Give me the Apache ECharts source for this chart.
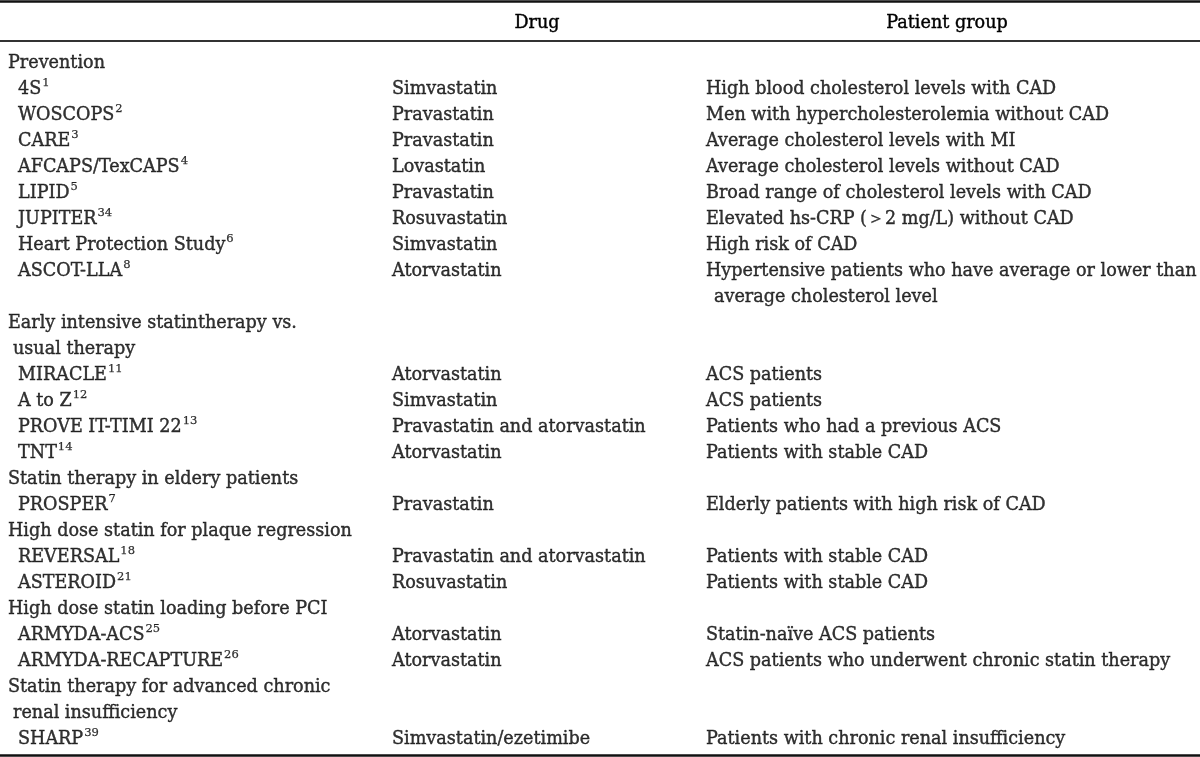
<!DOCTYPE html>
<html>
<head>
<meta charset="utf-8">
<script src="https://cdn.jsdelivr.net/npm/echarts@6/dist/echarts.min.js"></script>
<style>
  html, body { margin: 0; padding: 0; background: #fff; }
  #table { width: 1200px; height: 757px; }
</style>
</head>
<body>
<div id="table"></div>
<script>
// column headers
const headers = ["Drug", "Patient group"];

// one entry per printed line of the table
// g = group heading, g2 = wrapped group heading, s = study, c = wrapped patient text
const lineKinds = ["g", "s", "s", "s", "s", "s", "s", "s", "s", "c",
  "g", "g2", "s", "s", "s", "s", "g", "s", "g", "s", "s", "g", "s", "s", "g", "g2", "s"];

const studies = ["Prevention", "4S", "WOSCOPS", "CARE", "AFCAPS/TexCAPS", "LIPID", "JUPITER",
  "Heart Protection Study", "ASCOT-LLA", "",
  "Early intensive statintherapy vs.", "usual therapy", "MIRACLE", "A to Z", "PROVE IT-TIMI 22", "TNT",
  "Statin therapy in eldery patients", "PROSPER",
  "High dose statin for plaque regression", "REVERSAL", "ASTEROID",
  "High dose statin loading before PCI", "ARMYDA-ACS", "ARMYDA-RECAPTURE",
  "Statin therapy for advanced chronic", "renal insufficiency", "SHARP"];

const refs = ["", "1", "2", "3", "4", "5", "34", "6", "8", "",
  "", "", "11", "12", "13", "14", "", "7", "", "18", "21", "", "25", "26", "", "", "39"];

const drugs = ["", "Simvastatin", "Pravastatin", "Pravastatin", "Lovastatin", "Pravastatin", "Rosuvastatin",
  "Simvastatin", "Atorvastatin", "",
  "", "", "Atorvastatin", "Simvastatin", "Pravastatin and atorvastatin", "Atorvastatin",
  "", "Pravastatin", "", "Pravastatin and atorvastatin", "Rosuvastatin",
  "", "Atorvastatin", "Atorvastatin", "", "", "Simvastatin/ezetimibe"];

const patients = ["", "High blood cholesterol levels with CAD", "Men with hypercholesterolemia without CAD",
  "Average cholesterol levels with MI", "Average cholesterol levels without CAD",
  "Broad range of cholesterol levels with CAD", "Elevated hs-CRP (\uFF1E2 mg/L) without CAD",
  "High risk of CAD", "Hypertensive patients who have average or lower than", "average cholesterol level",
  "", "", "ACS patients", "ACS patients", "Patients who had a previous ACS", "Patients with stable CAD",
  "", "Elderly patients with high risk of CAD", "", "Patients with stable CAD", "Patients with stable CAD",
  "", "Statin-na\u00EFve ACS patients", "ACS patients who underwent chronic statin therapy",
  "", "", "Patients with chronic renal insufficiency"];

const FONT = "'DejaVu Serif', 'Liberation Serif', serif";
const SIZE = 17.6;
const INK = "#000";

// left edge of each column (px) and indents
const studyX = { g: 8, g2: 13, s: 18, c: 18 };
const drugX = 392;
const patientX = { main: 706, c: 714 };

const chart = echarts.init(document.getElementById("table"));

const studyData = [], drugData = [], patientData = [];
for (let i = 0; i < studies.length; i++) {
  if (studies[i]) studyData.push({ value: [studyX[lineKinds[i]], i], ref: refs[i], name: studies[i] });
  if (drugs[i]) drugData.push({ value: [drugX, i], name: drugs[i] });
  if (patients[i]) patientData.push({
    value: [lineKinds[i] === "c" ? patientX.c : patientX.main, i], name: patients[i]
  });
}

const textLabel = {
  show: true,
  position: "right",
  distance: 0,
  color: INK,
  fontFamily: FONT,
  fontSize: SIZE,
  textBorderColor: INK,
  textBorderWidth: 0.4,
  formatter: (p) => p.name,
};

chart.setOption({
  animation: false,
  backgroundColor: "#fff",
  grid: { left: 0, right: 0, top: 63.5, bottom: 17.5 },
  xAxis: { type: "value", min: 0, max: 1200, show: false },
  yAxis: { type: "value", min: 0, max: studies.length - 1, inverse: true, show: false },
  series: [
    {
      type: "scatter",
      symbolSize: 0,
      data: studyData,
      label: Object.assign({}, textLabel, {
        formatter: (p) => p.data.ref ? "{n|" + p.name + "}{s|" + p.data.ref + "}" : "{n|" + p.name + "}",
        rich: {
          n: { fontFamily: FONT, fontSize: SIZE, color: INK, lineHeight: 24, textBorderColor: INK, textBorderWidth: 0.4 },
          s: { fontFamily: FONT, fontSize: 11.5, color: INK, verticalAlign: "top", lineHeight: 24, padding: [0, 0, 11, 1], textBorderColor: INK, textBorderWidth: 0.25 },
        },
      }),
    },
    { type: "scatter", symbolSize: 0, data: drugData, label: textLabel },
    { type: "scatter", symbolSize: 0, data: patientData, label: textLabel },
  ],
  graphic: [
    { type: "line", shape: { x1: 0, y1: 1.5, x2: 1200, y2: 1.5 }, style: { stroke: "#111", lineWidth: 2.5 } },
    { type: "line", shape: { x1: 0, y1: 41, x2: 1200, y2: 41 }, style: { stroke: "#333", lineWidth: 2 } },
    { type: "line", shape: { x1: 0, y1: 755.5, x2: 1200, y2: 755.5 }, style: { stroke: "#111", lineWidth: 2.5 } },
    { type: "text", x: 537, y: 23, style: { text: headers[0], font: SIZE + "px " + FONT, fill: INK, stroke: INK, lineWidth: 0.4, align: "center", verticalAlign: "middle" } },
    { type: "text", x: 947, y: 23, style: { text: headers[1], font: SIZE + "px " + FONT, fill: INK, stroke: INK, lineWidth: 0.4, align: "center", verticalAlign: "middle" } },
  ],
});
</script>
</body>
</html>
